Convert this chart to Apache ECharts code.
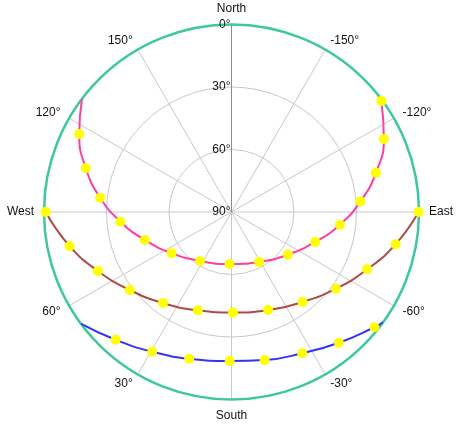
<!DOCTYPE html>
<html>
<head>
<meta charset="utf-8">
<script src="https://cdn.jsdelivr.net/npm/echarts@6/dist/echarts.min.js"></script>
<style>
html,body{margin:0;padding:0;background:#fff;}
#chart{width:461px;height:432px;}
</style>
</head>
<body>
<div id="chart"></div>
<script>
// Angle axis tick labels (azimuth, South = 0, West = 90, East = -90)
const compassNames = { '-180': 'North', '-90': 'East', '0': 'South', '90': 'West', '180': '' };
// Radial axis (elevation) ticks
const elevationTicks = [0, 30, 60, 90];

// Summer solstice path (azimuth / elevation), hourly points
const summerAz = [-126.5, -115.6, -105.2, -94.7, -83.3, -70.3, -52.9, -29.0, 2.2, 32.6, 55.5, 72.1, 85.0, 96.2, 106.7, 117.1];
const summerEl = [0.5, 8.9, 18.2, 27.9, 37.6, 47.3, 56.1, 62.6, 65.0, 62.1, 55.1, 46.3, 36.5, 26.6, 17.0, 7.9];
const summerRise = null;
const summerSet = [127.1, 0];

// Equinox path
const equinoxAz = [-90.0, -78.9, -67.1, -53.7, -38.3, -20.5, -0.8, 18.9, 37.0, 52.5, 66.2, 78.1, 90.0];
const equinoxEl = [0.2, 9.7, 19.3, 27.8, 35.0, 39.8, 41.7, 40.1, 35.3, 28.5, 19.9, 10.6, 0.8];
const equinoxRise = null;
const equinoxSet = null;

// Winter solstice path
const winterAz = [-51.1, -39.4, -26.6, -12.6, 0.7, 16.1, 29.6, 42.2];
const winterEl = [1.9, 8.8, 14.2, 17.2, 18.5, 16.7, 12.9, 7.2];
const winterRise = [-54.1, 0];
const winterSet = [53.5, 0];

const pathColors = ['#ff3ea0', '#ad4a46', '#3434f4'];

function dots(az, el) { return az.map((a, i) => [el[i], a]); }
function path(az, el, rise, set) {
  let d = dots(az, el);
  if (rise) d = [[rise[1], rise[0]]].concat(d);
  if (set) d = d.concat([[set[1], set[0]]]);
  return d;
}

const paths = [
  path(summerAz, summerEl, summerRise, summerSet),
  path(equinoxAz, equinoxEl, equinoxRise, equinoxSet),
  path(winterAz, winterEl, winterRise, winterSet)
];
const points = [dots(summerAz, summerEl), dots(equinoxAz, equinoxEl), dots(winterAz, winterEl)];

const font = 'Liberation Sans';
const series = [];
paths.forEach((p, i) => {
  series.push({
    type: 'line', coordinateSystem: 'polar', data: p, smooth: true,
    showSymbol: false, symbol: 'none', silent: true,
    lineStyle: { color: pathColors[i], width: 2 }, z: 3
  });
});
points.forEach((p) => {
  series.push({
    type: 'scatter', coordinateSystem: 'polar', data: p, symbolSize: 10,
    itemStyle: { color: '#ffff00', opacity: 1 }, z: 5, silent: true
  });
});

const chart = echarts.init(document.getElementById('chart'), null, { renderer: 'canvas' });
chart.setOption({
  animation: false,
  backgroundColor: '#ffffff',
  polar: { center: [231.5, 212], radius: 187.5 },
  angleAxis: {
    type: 'value', min: -180, max: 180, interval: 30,
    startAngle: 90, clockwise: true,
    axisLine: { show: true, lineStyle: { color: '#3ec8a0', width: 2.5 } },
    axisTick: { show: false },
    splitLine: { show: true, lineStyle: { color: '#c8c8c8', width: 1 } },
    axisLabel: {
      margin: 10, color: '#111', fontFamily: font, fontSize: 12,
      rich: {
        d: { color: '#111', fontFamily: font, fontSize: 12, lineHeight: 1 }
      },
      formatter: function (v) {
        const k = String(v);
        if (k in compassNames) return compassNames[k];
        return '{d|' + v + '°}';
      }
    }
  },
  radiusAxis: {
    type: 'value', min: elevationTicks[0], max: elevationTicks[elevationTicks.length - 1],
    interval: elevationTicks[1] - elevationTicks[0], inverse: true,
    axisLine: { show: true, lineStyle: { color: '#8c8c8c', width: 1 } },
    axisTick: { show: false },
    splitLine: { show: true, lineStyle: { color: '#c8c8c8', width: 1 } },
    axisLabel: { margin: 1, color: '#111', fontFamily: font, fontSize: 12, formatter: '{value}°' }
  },
  series: series
});
</script>
</body>
</html>
